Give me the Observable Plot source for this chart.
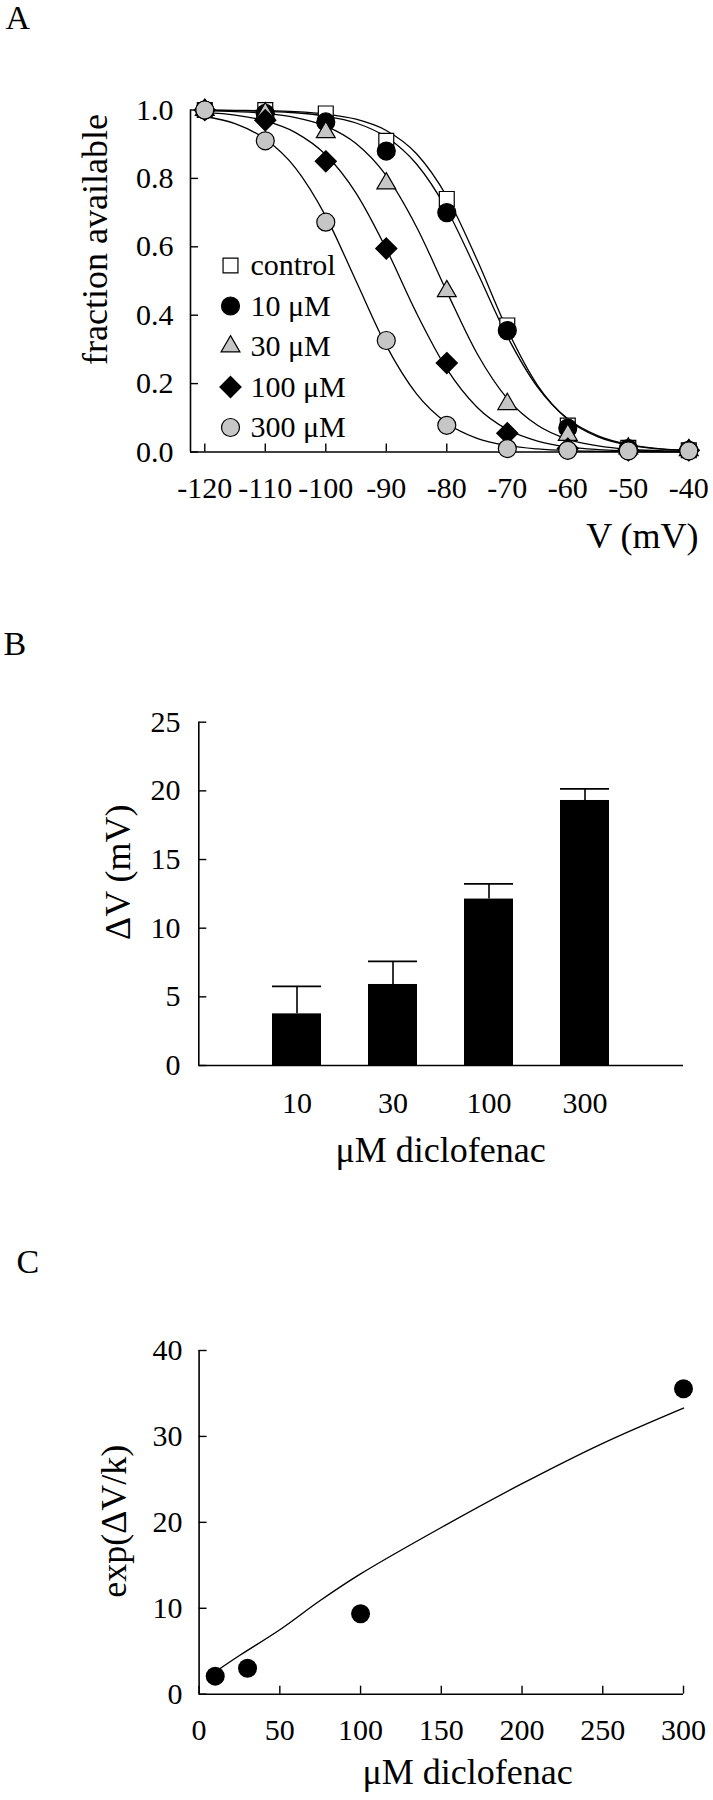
<!DOCTYPE html>
<html><head><meta charset="utf-8">
<script src="https://cdn.jsdelivr.net/npm/d3@7"></script>
<script src="https://cdn.jsdelivr.net/npm/@observablehq/plot@0.6"></script>
<style>
html,body{margin:0;padding:0;background:#fff;overflow:hidden;}
#wrap{position:relative;width:713px;height:1800px;}
#wrap svg{position:absolute;left:0;}
</style></head><body><div id="wrap"></div>
<script>
// ---------- Panel A data ----------
const seriesNames = ["control", "10 μM", "30 μM", "100 μM", "300 μM"];
const voltages = [-120, -110, -100, -90, -80, -70, -60, -50, -40];
const availControl = [1.0, 1.0, 0.99, 0.91, 0.74, 0.37, 0.077, 0.012, 0.005];
const avail10 = [1.0, 0.99, 0.965, 0.88, 0.70, 0.355, 0.07, 0.01, 0.005];
const avail30 = [1.0, 0.99, 0.935, 0.785, 0.47, 0.14, 0.05, 0.01, 0.005];
const avail100 = [1.0, 0.97, 0.85, 0.595, 0.26, 0.055, 0.01, 0.005, 0.005];
const avail300 = [1.0, 0.91, 0.672, 0.326, 0.078, 0.01, 0.005, 0.003, 0.003];
// fitted curves (5 mV steps)
const fitVoltages = [-120, -115, -110, -105, -100, -95, -90, -85, -80, -75, -70, -65, -60, -55, -50, -45, -40];
const fitControl = [1.0, 0.999, 0.998, 0.995, 0.988, 0.973, 0.940, 0.872, 0.747, 0.562, 0.358, 0.195, 0.095, 0.044, 0.020, 0.009, 0.004];
const fit10 = [0.999, 0.998, 0.996, 0.992, 0.982, 0.962, 0.921, 0.842, 0.709, 0.527, 0.338, 0.190, 0.097, 0.047, 0.022, 0.010, 0.005];
const fit30 = [0.998, 0.995, 0.990, 0.978, 0.953, 0.902, 0.808, 0.658, 0.469, 0.288, 0.156, 0.078, 0.037, 0.018, 0.008, 0.004, 0.002];
const fit100 = [0.993, 0.985, 0.968, 0.934, 0.869, 0.757, 0.594, 0.406, 0.243, 0.131, 0.066, 0.032, 0.015, 0.007, 0.003, 0.002, 0.001];
const fit300 = [0.981, 0.960, 0.915, 0.830, 0.689, 0.500, 0.311, 0.170, 0.085, 0.040, 0.019, 0.009, 0.004, 0.002, 0.001, 0.0004, 0.0002];
const voltTicks = [-120, -110, -100, -90, -80, -70, -60, -50, -40];
const availTicks = [0, 0.2, 0.4, 0.6, 0.8, 1.0];

// ---------- Panel B data ----------
const concLabels = ["10", "30", "100", "300"];
const shiftMean = [3.76, 5.9, 12.12, 19.3];
const shiftSem = [2.0, 1.68, 1.11, 0.84];
const shiftTicks = [0, 5, 10, 15, 20, 25];

// ---------- Panel C data ----------
const concValues = [10, 30, 100, 300];
const expValues = [2.1, 3.03, 9.36, 35.55];
const fitConc = [10, 25, 50, 75, 100, 150, 200, 250, 300];
const fitExp = [2.6, 4.5, 7.5, 10.9, 14.0, 19.4, 24.5, 29.2, 33.3];
const concTicks = [0, 50, 100, 150, 200, 250, 300];
const expTicks = [0, 10, 20, 30, 40];

// ---------- styles ----------
const FONT = "'Liberation Serif', 'Times New Roman', 'DejaVu Serif', serif";
const GRAY = "#c6c6c6";
const TICKFS = 30;
const styleBase = {fontFamily: FONT, fontSize: "30px", color: "#000", background: "transparent", overflow: "visible"};
const seriesValues = [availControl, avail10, avail30, avail100, avail300];
const seriesFits = [fitControl, fit10, fit30, fit100, fit300];
const seriesSymbol = ["square", "circle", "triangle", "diamond2", "circle"];
const seriesFill = ["white", "black", GRAY, "black", GRAY];
const seriesR = [8.4, 9, 7, 9.5, 9];

const wrap = document.getElementById("wrap");
function place(svg, top) { svg.style.top = top + "px"; wrap.appendChild(svg); }

// ================= Panel A =================
{
  const mL = 190, mR = 24.7, mT = 109.5, mB = 148.5;
  const pw = 713 - mL - mR, ph = 600 - mT - mB;
  const xDom = [-122.36, -40];
  const pts = [], fits = [];
  seriesNames.forEach((s, i) => {
    voltages.forEach((v, j) => pts.push({s, v, h: seriesValues[i][j]}));
    fitVoltages.forEach((v, j) => fits.push({s, v, h: seriesFits[i][j]}));
  });
  const marks = [
    Plot.line(fits, {x: "v", y: "h", z: "s", curve: "monotone-x", stroke: "black", strokeWidth: 1.3}),
    Plot.ruleY([0], {strokeWidth: 1.6}),
    Plot.ruleX([xDom[0]], {y1: 0, y2: 1, strokeWidth: 1.6}),
    Plot.tickY(availTicks, {y: d => d, insetRight: pw - 8, strokeWidth: 1.4}),
    Plot.tickX(voltTicks, {x: d => d, insetTop: ph - 8, strokeWidth: 1.4}),
    Plot.axisY(availTicks, {tickSize: 0, tickPadding: 17, tickFormat: d3.format(".1f"), label: null, fontSize: TICKFS}),
    Plot.axisX(voltTicks, {tickSize: 0, tickPadding: 24.5, tickFormat: d => String(d), label: null, fontSize: TICKFS}),
  ];
  seriesNames.forEach((s, i) => {
    marks.push(Plot.dot(pts.filter(d => d.s === s), {x: "v", y: "h", symbol: seriesSymbol[i], fill: seriesFill[i], stroke: "black", strokeWidth: 1.2, r: seriesR[i]}));
  });
  // legend
  seriesNames.forEach((s, i) => {
    const dy = 265 + i * 40.5 - mT;
    marks.push(Plot.dot([s], {frameAnchor: "top-left", dx: 230 - mL, dy, symbol: seriesSymbol[i], fill: seriesFill[i], stroke: "black", strokeWidth: 1.2, r: seriesR[i]}));
    marks.push(Plot.text([s], {frameAnchor: "top-left", dx: 250 - mL, dy, text: d => d, textAnchor: "start", lineAnchor: "middle", fontSize: 30}));
  });
  marks.push(
    Plot.text(["A"], {frameAnchor: "top-left", dx: 5 - mL, dy: 18 - mT, text: d => d, textAnchor: "start", lineAnchor: "middle", fontSize: 34}),
    Plot.text(["fraction available"], {frameAnchor: "top-left", dx: 95 - mL, dy: 239 - mT, text: d => d, rotate: -90, textAnchor: "middle", lineAnchor: "middle", fontSize: 36}),
    Plot.text(["V (mV)"], {frameAnchor: "top-left", dx: 698 - mL, dy: 535.5 - mT, text: d => d, textAnchor: "end", lineAnchor: "middle", fontSize: 36})
  );
  const svg = Plot.plot({
    width: 713, height: 600, marginLeft: mL, marginRight: mR, marginTop: mT, marginBottom: mB,
    style: styleBase,
    x: {domain: xDom}, y: {domain: [0, 1]},
    marks
  });
  place(svg, 0);
}

// ================= Panel B =================
{
  const mL = 198.3, mR = 30, mT = 121.7, mB = 135;
  const pw = 713 - mL - mR, ph = 600 - mT - mB;
  const bars = concLabels.map((c, i) => ({c, m: shiftMean[i], e: shiftMean[i] + shiftSem[i]}));
  const svg = Plot.plot({
    width: 713, height: 600, marginLeft: mL, marginRight: mR, marginTop: mT, marginBottom: mB,
    style: styleBase,
    x: {type: "band", domain: concLabels, paddingInner: 0.49, paddingOuter: 0.745},
    y: {domain: [0, 25]},
    marks: [
      Plot.ruleX(bars, {x: "c", y1: "m", y2: "e", strokeWidth: 1.6}),
      Plot.tickY(bars, {x: "c", y: "e", strokeWidth: 1.8}),
      Plot.barY(bars, {x: "c", y: "m", fill: "black"}),
      Plot.ruleY([0], {strokeWidth: 1.6}),
      Plot.tickY(shiftTicks, {y: d => d, insetRight: pw - 8, strokeWidth: 1.4}),
      Plot.ruleX([0], {x: null, dx: -pw / 2, y1: 0, y2: 25, strokeWidth: 1.6}),
      Plot.axisY(shiftTicks, {tickSize: 0, tickPadding: 18.3, label: null, fontSize: TICKFS}),
      Plot.axisX(concLabels, {tickSize: 0, tickPadding: 26, label: null, fontSize: TICKFS}),
      Plot.text(["B"], {frameAnchor: "top-left", dx: 3 - mL, dy: 44 - mT, text: d => d, textAnchor: "start", lineAnchor: "middle", fontSize: 34}),
      Plot.text(["ΔV (mV)"], {frameAnchor: "top-left", dx: 118 - mL, dy: 871.7 - 600 - mT, text: d => d, rotate: -90, textAnchor: "middle", lineAnchor: "middle", fontSize: 36}),
      Plot.text(["μM diclofenac"], {frameAnchor: "top-left", dx: 440 - mL, dy: 549.5 - mT, text: d => d, textAnchor: "middle", lineAnchor: "middle", fontSize: 36})
    ]
  });
  place(svg, 600);
}

// ================= Panel C =================
{
  const mL = 198.6, mR = 30, mT = 150, mB = 106.3;
  const pw = 713 - mL - mR, ph = 600 - mT - mB;
  const pts = concValues.map((c, i) => ({c, v: expValues[i]}));
  const fit = fitConc.map((c, i) => ({c, v: fitExp[i]}));
  const svg = Plot.plot({
    width: 713, height: 600, marginLeft: mL, marginRight: mR, marginTop: mT, marginBottom: mB,
    style: styleBase,
    x: {domain: [0, 300]}, y: {domain: [0, 40]},
    marks: [
      Plot.line(fit, {x: "c", y: "v", curve: "catmull-rom", stroke: "black", strokeWidth: 1.4}),
      Plot.ruleY([0], {strokeWidth: 1.6}),
      Plot.ruleX([0], {y1: 0, y2: 40, strokeWidth: 1.6}),
      Plot.tickY(expTicks, {y: d => d, insetRight: pw - 8, strokeWidth: 1.4}),
      Plot.tickX(concTicks, {x: d => d, insetTop: ph - 8, strokeWidth: 1.4}),
      Plot.axisY(expTicks, {tickSize: 0, tickPadding: 16.6, label: null, fontSize: TICKFS}),
      Plot.axisX(concTicks, {tickSize: 0, tickPadding: 24, label: null, fontSize: TICKFS}),
      Plot.dot(pts, {x: "c", y: "v", r: 9.5, fill: "black"}),
      Plot.text(["C"], {frameAnchor: "top-left", dx: 16 - mL, dy: 62 - mT, text: d => d, textAnchor: "start", lineAnchor: "middle", fontSize: 34}),
      Plot.text(["exp(ΔV/k)"], {frameAnchor: "top-left", dx: 114 - mL, dy: 320.7 - mT, text: d => d, rotate: -90, textAnchor: "middle", lineAnchor: "middle", fontSize: 36}),
      Plot.text(["μM diclofenac"], {frameAnchor: "top-left", dx: 467 - mL, dy: 572 - mT, text: d => d, textAnchor: "middle", lineAnchor: "middle", fontSize: 36})
    ]
  });
  place(svg, 1200);
}
</script>
</body></html>
